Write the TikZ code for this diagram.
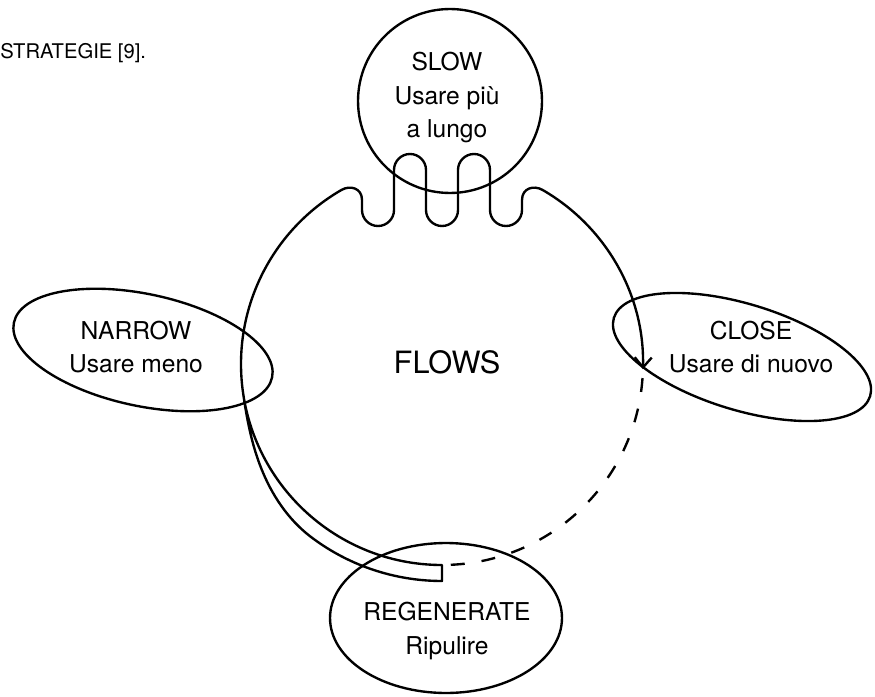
\documentclass[tikz,border=0pt]{standalone}
\usepackage{fontspec}
\setmainfont{TeX Gyre Heros}
\usetikzlibrary{arrows.meta, shapes.geometric, calc}
\tikzset{
    ring/.style={ellipse, draw, line width=1.35pt, inner sep=0pt},
    tag/.style={align=center, inner sep=0pt,
                font=\fontsize{14}{19}\selectfont},
    flow/.style={line width=1.35pt, line join=round},
    backflow/.style={flow, dash pattern=on 0.28cm off 0.34cm},
    flowtip/.style={-{Straight Barb[length=2mm, width=3.4mm]}},
}

\begin{document}
\begin{tikzpicture}[x=0.02cm, y=-0.02cm,
    declare function={bandw(\t)=3*min(1,(172-\t)/45)^2-2*min(1,(172-\t)/45)^3;}]
    \useasboundingbox (0,0) rectangle (875,696);
    % caption cut from the page
    \node[anchor=base west, inner sep=0pt, font=\fontsize{11.5}{14}\selectfont]
        (caption) at (0,59) {STRATEGIE [9].};
    % centre of the loop
    \coordinate (hub) at (442,364);
    \node[font=\fontsize{17.5}{20}\selectfont] (flows) at (447,362) {FLOWS};
    % SLOW: on top
    \node[ring, minimum width=3.68cm, minimum height=3.68cm] (slowring) at (450,101) {};
    \node[tag] (slow) at (447,97.5) {SLOW\\Usare più\\a lungo};
    % NARROW: left
    \node[ring, rotate=-12, minimum width=5.28cm, minimum height=2.24cm] (narrowring) at (143,350) {};
    \node[tag] (narrow) at (136,347) {NARROW\\Usare meno};
    % CLOSE: right
    \node[ring, rotate=-17, minimum width=5.36cm, minimum height=2.12cm] (closering) at (742,357) {};
    \node[tag] (close) at (751,347) {CLOSE\\Usare di nuovo};
    % REGENERATE: bottom
    \node[ring, minimum width=4.64cm, minimum height=3cm] (regenring) at (446,618) {};
    \node[tag] (regen) at (447,631) {REGENERATE\\Ripulire};
    % loop points
    \coordinate (bandend) at ($(hub)+(90:201)$);
    \coordinate (closein) at ($(hub)+(4:201)$);
    \coordinate (regenin) at ($(hub)+(87.5:201)$);
    % band from REGENERATE, up the left, through SLOW, down into CLOSE
    \draw[flow, flowtip]
        plot[domain=172:90, samples=60, variable=\t]
            ({442+(201+16*bandw(\t))*cos(\t)}, {364+(201+16*bandw(\t))*sin(\t)})
        -- (bandend)
        arc[start angle=90, end angle=240, radius=201]
        .. controls (350.2,184.9) and (362,188) .. (362,200)
        -- (362,210) arc[start angle=180, end angle=0, radius=16]
        -- (394,170) arc[start angle=180, end angle=360, radius=16]
        -- (426,210) arc[start angle=180, end angle=0, radius=16]
        -- (458,170) arc[start angle=180, end angle=360, radius=16]
        -- (490,210) arc[start angle=180, end angle=0, radius=16]
        -- (522,200) .. controls (522,188) and (533.8,184.9) .. (542.5,189.9)
        arc[start angle=300, end angle=361.5, radius=201];
    % dashed way back from CLOSE to REGENERATE
    \draw[backflow] (regenin) arc[start angle=87.5, end angle=4, radius=201];
\end{tikzpicture}
\end{document}
